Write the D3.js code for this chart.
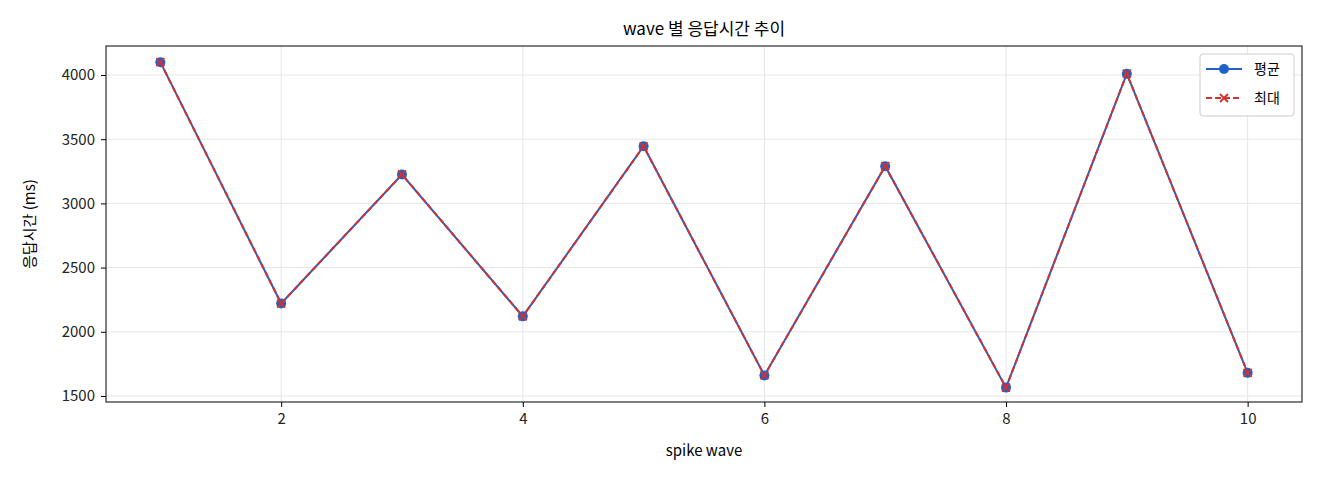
<!DOCTYPE html><html><head><meta charset="utf-8"><script src="https://cdn.jsdelivr.net/npm/d3@7"></script>
<style>body{margin:0;background:#fff}text{font-family:"Noto Sans CJK KR","Noto Sans",sans-serif}</style></head><body><svg id="c" width="1320" height="480"></svg><script>
const waves=[1,2,3,4,5,6,7,8,9,10];
const avgVals=[4100,2220,3225,2120,3445,1660,3290,1565,4010,1680];
const maxVals=[4100,2220,3225,2120,3445,1660,3290,1565,4010,1680];
const xTicks=[2,4,6,8,10];
const yTicks=[1500,2000,2500,3000,3500,4000];
const svg=d3.select("#c");
const L=106,R=1302,T=46,B=402;
const x=d3.scaleLinear().domain([0.55,10.45]).range([L,R]);
const y=d3.scaleLinear().domain([1453,4226]).range([B,T]);
const g=svg.append("g");
g.selectAll(".gx").data(xTicks).join("line").attr("x1",d=>x(d)).attr("x2",d=>x(d)).attr("y1",T).attr("y2",B).attr("stroke","#e6e6e6");
g.selectAll(".gy").data(yTicks).join("line").attr("y1",d=>y(d)).attr("y2",d=>y(d)).attr("x1",L).attr("x2",R).attr("stroke","#e6e6e6");
svg.append("g").attr("transform",`translate(0,${B})`).call(d3.axisBottom(x).tickValues(xTicks).tickFormat(d3.format("d")).tickSize(5).tickPadding(6)).call(a=>{a.select(".domain").remove();a.selectAll("text").attr("font-size",15).attr("fill","#222")});
svg.append("g").attr("transform",`translate(${L},0)`).call(d3.axisLeft(y).tickValues(yTicks).tickFormat(d3.format("d")).tickSize(5).tickPadding(6)).call(a=>{a.select(".domain").remove();a.selectAll("text").attr("font-size",15).attr("fill","#222")});
svg.append("rect").attr("x",L).attr("y",T).attr("width",R-L).attr("height",B-T).attr("fill","none").attr("stroke","#000");
const line=d3.line().x((d,i)=>x(waves[i])).y(d=>y(d));
svg.append("path").attr("d",line(avgVals)).attr("fill","none").attr("stroke","#1f63c6").attr("stroke-width",2);
svg.selectAll(".m").data(avgVals).join("circle").attr("cx",(d,i)=>x(waves[i])).attr("cy",d=>y(d)).attr("r",5).attr("fill","#1f63c6");
svg.append("path").attr("d",line(maxVals)).attr("fill","none").attr("stroke","#d62f2f").attr("stroke-width",2).attr("stroke-dasharray","6,3");
const cross=(sel,cx,cy)=>{sel.append("path").attr("d",`M${cx-4},${cy-4}L${cx+4},${cy+4}M${cx-4},${cy+4}L${cx+4},${cy-4}`).attr("stroke","#d62f2f").attr("stroke-width",1.8)};
maxVals.forEach((d,i)=>cross(svg,x(waves[i]),y(d)));
svg.append("text").attr("x",(L+R)/2).attr("y",35).attr("text-anchor","middle").attr("font-size",17).text("wave 별 응답시간 추이");
svg.append("text").attr("x",(L+R)/2).attr("y",456).attr("text-anchor","middle").attr("font-size",15).text("spike wave");
svg.append("text").attr("transform",`translate(35,${(T+B)/2}) rotate(-90)`).attr("text-anchor","middle").attr("font-size",15).text("응답시간 (ms)");
const lg=svg.append("g").attr("transform","translate(1200,54)");
lg.append("rect").attr("width",94).attr("height",62).attr("rx",3).attr("fill","#fff").attr("stroke","#ccc");
lg.append("line").attr("x1",6).attr("x2",42).attr("y1",15).attr("y2",15).attr("stroke","#1f63c6").attr("stroke-width",2);
lg.append("circle").attr("cx",24).attr("cy",15).attr("r",5).attr("fill","#1f63c6");
lg.append("line").attr("x1",6).attr("x2",42).attr("y1",44).attr("y2",44).attr("stroke","#d62f2f").attr("stroke-width",2).attr("stroke-dasharray","6,3");
cross(lg,24,44);
lg.append("text").attr("x",54).attr("y",20).attr("font-size",14).text("평균");
lg.append("text").attr("x",54).attr("y",49).attr("font-size",14).text("최대");
</script></body></html>
